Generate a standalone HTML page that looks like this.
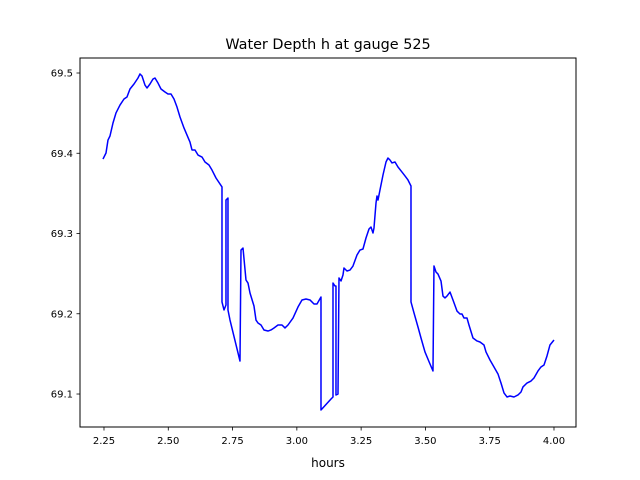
<!DOCTYPE html>
<html><head><meta charset="utf-8"><style>html,body{margin:0;padding:0;background:#fff}svg{display:block}</style></head>
<body>
<svg id="chart" width="640" height="480" xmlns="http://www.w3.org/2000/svg" font-family="DejaVu Sans, Liberation Sans, sans-serif">
<rect width="640" height="480" fill="#fff"/>
<text x="328" y="49" font-size="14.4" text-anchor="middle">Water Depth h at gauge 525</text>
<g id="plot"></g>
<text x="328" y="467" font-size="12" text-anchor="middle">hours</text>
</svg>
<script>
const xs=[2.2461,2.2578,2.2656,2.2733,2.2850,2.2967,2.3122,2.3278,2.3394,2.3511,2.3667,2.3822,2.3900,2.3978,2.4094,2.4172,2.4289,2.4406,2.4483,2.4600,2.4717,2.4872,2.4989,2.5106,2.5222,2.5339,2.5456,2.5611,2.5728,2.5844,2.5922,2.6039,2.6156,2.6311,2.6428,2.6583,2.6700,2.6856,2.7089,2.7089,2.7167,2.7244,2.7244,2.7322,2.7322,2.7400,2.7789,2.7828,2.7906,2.8022,2.8100,2.8178,2.8333,2.8411,2.8489,2.8606,2.8722,2.8878,2.8994,2.9111,2.9267,2.9422,2.9539,2.9656,2.9850,3.0044,3.0200,3.0356,3.0511,3.0667,3.0783,3.0939,3.0939,3.1328,3.1406,3.1406,3.1483,3.1522,3.1522,3.1600,3.1639,3.1717,3.1794,3.1833,3.1950,3.2067,3.2183,3.2339,3.2456,3.2572,3.2689,3.2806,3.2883,3.2961,3.3000,3.3078,3.3117,3.3156,3.3233,3.3311,3.3350,3.3467,3.3544,3.3622,3.3700,3.3817,3.3933,3.4089,3.4206,3.4322,3.4439,3.4439,3.4556,3.4711,3.4828,3.4983,3.5178,3.5294,3.5333,3.5411,3.5489,3.5606,3.5683,3.5761,3.5839,3.5956,3.6072,3.6228,3.6344,3.6422,3.6500,3.6617,3.6694,3.6850,3.7006,3.7122,3.7278,3.7356,3.7511,3.7667,3.7822,3.7939,3.8056,3.8172,3.8289,3.8444,3.8600,3.8717,3.8794,3.8950,3.9106,3.9222,3.9378,3.9494,3.9611,3.9728,3.9844,4.0000];
const ys=[69.3928,69.4003,69.4165,69.4215,69.4377,69.4502,69.4601,69.4676,69.4701,69.4801,69.4863,69.4938,69.4988,69.4963,69.4850,69.4813,69.4863,69.4925,69.4938,69.4875,69.4801,69.4763,69.4738,69.4738,69.4676,69.4576,69.4452,69.4315,69.4227,69.4140,69.4041,69.4041,69.3978,69.3953,69.3891,69.3854,69.3791,69.3692,69.3580,69.2147,69.2047,69.2109,69.3417,69.3442,69.2047,69.1922,69.1411,69.2794,69.2819,69.2421,69.2383,69.2259,69.2097,69.1922,69.1885,69.1860,69.1798,69.1785,69.1798,69.1823,69.1860,69.1860,69.1823,69.1860,69.1947,69.2084,69.2172,69.2184,69.2172,69.2122,69.2122,69.2209,69.0801,69.0938,69.0963,69.2383,69.2346,69.2346,69.0988,69.1000,69.2446,69.2408,69.2483,69.2570,69.2533,69.2545,69.2595,69.2732,69.2794,69.2807,69.2944,69.3056,69.3081,69.3006,69.3069,69.3380,69.3467,69.3417,69.3542,69.3667,69.3729,69.3891,69.3941,69.3916,69.3879,69.3891,69.3829,69.3766,69.3717,69.3667,69.3592,69.2147,69.2010,69.1835,69.1698,69.1524,69.1374,69.1287,69.2595,69.2520,69.2495,69.2408,69.2221,69.2197,69.2221,69.2271,69.2172,69.2034,69.1997,69.1997,69.1947,69.1947,69.1860,69.1698,69.1661,69.1648,69.1611,69.1524,69.1424,69.1337,69.1250,69.1137,69.1013,69.0963,69.0975,69.0963,69.0988,69.1025,69.1088,69.1137,69.1162,69.1200,69.1287,69.1337,69.1362,69.1474,69.1611,69.1673];
const xTicks=[2.25,2.50,2.75,3.00,3.25,3.50,3.75,4.00];
const xTickLabels=["2.25","2.50","2.75","3.00","3.25","3.50","3.75","4.00"];
const yTicks=[69.1,69.2,69.3,69.4,69.5];
const yTickLabels=["69.1","69.2","69.3","69.4","69.5"];
const L=80,R=576,T=58,B=427;
const xMin=2.1567,xMax=4.0856,yMin=69.0589,yMax=69.5187;
function sx(v){return L+(v-xMin)/(xMax-xMin)*(R-L);}
function sy(v){return B-(v-yMin)/(yMax-yMin)*(B-T);}
const NS="http://www.w3.org/2000/svg";
const g=document.getElementById('plot');
function mk(t,a){const e=document.createElementNS(NS,t);for(const k in a)e.setAttribute(k,a[k]);g.appendChild(e);return e;}
let d=xs.map((x,i)=>(i?'L':'M')+sx(x).toFixed(2)+','+sy(ys[i]).toFixed(2)).join('');
const line=mk('path',{d:d,fill:'none',stroke:'#0000ff','stroke-width':1.5,'stroke-linejoin':'round'});


const frame=mk('rect',{x:L,y:T,width:R-L,height:B-T,fill:'none',stroke:'#000','stroke-width':1});


xTicks.forEach((v,i)=>{const x=sx(v);
const t=mk('line',{x1:x,x2:x,y1:B,y2:B+3.5,stroke:'#000','stroke-width':0.8});


const l=mk('text',{x:x,y:B+17,'font-size':10,'text-anchor':'middle'});l.textContent=xTickLabels[i];

});
yTicks.forEach((v,i)=>{const y=sy(v);
const t=mk('line',{x1:L-3.5,x2:L,y1:y,y2:y,stroke:'#000','stroke-width':0.8});


const l=mk('text',{x:L-7,y:y+3.5,'font-size':10,'text-anchor':'end'});l.textContent=yTickLabels[i];

});
</script>
</body></html>
